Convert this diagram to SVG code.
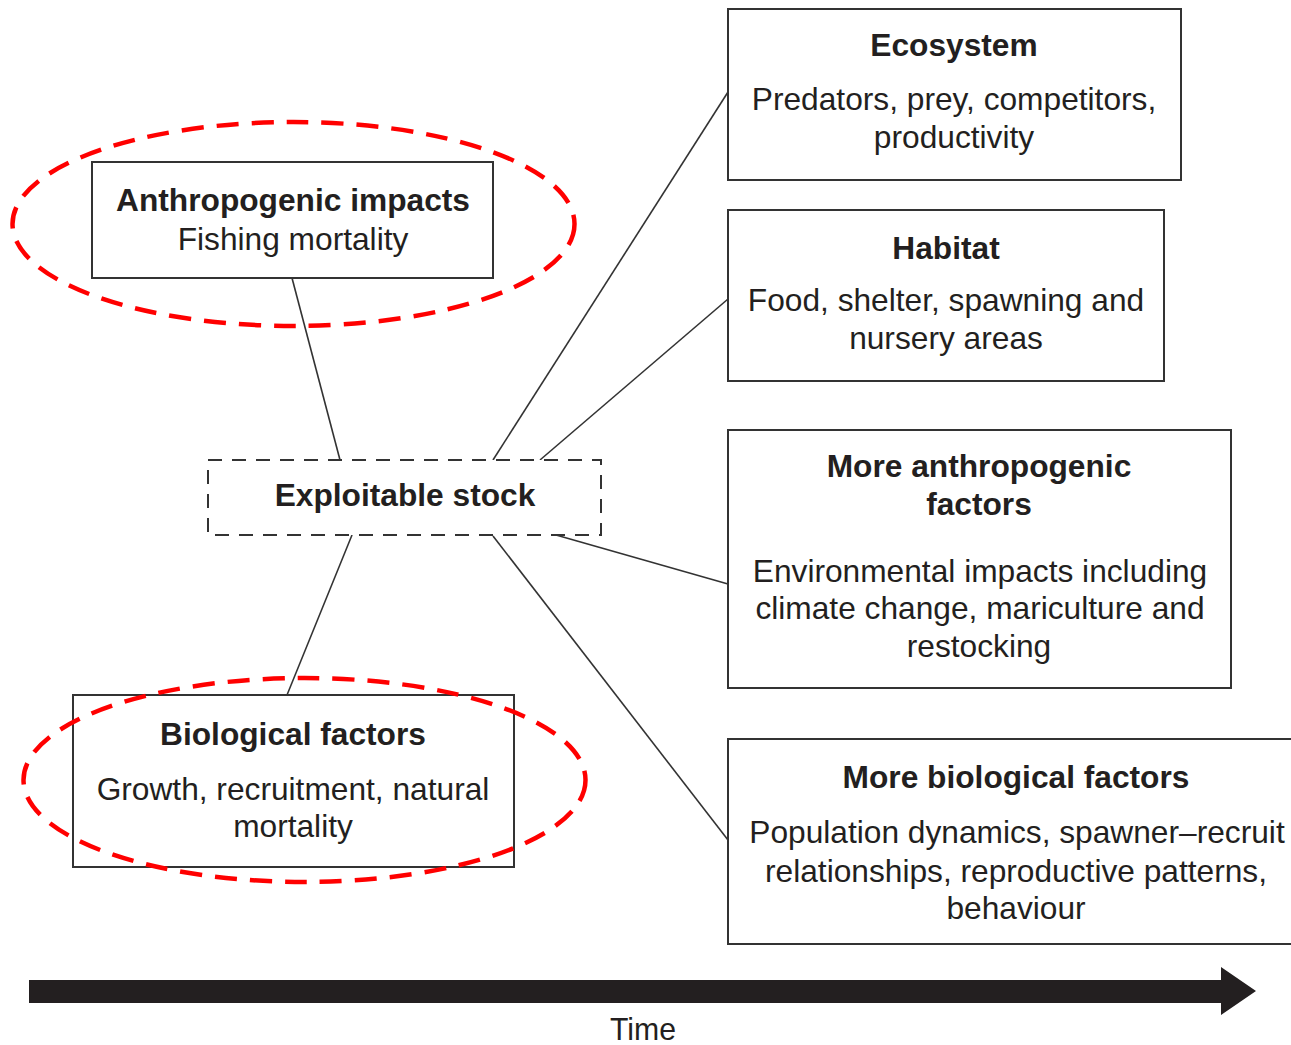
<svg xmlns="http://www.w3.org/2000/svg" width="1291" height="1045" viewBox="0 0 1291 1045">
  <style>
    .box { fill: #ffffff; stroke: #333333; stroke-width: 2; }
    .dbox { fill: #ffffff; stroke: #333333; stroke-width: 2; stroke-dasharray: 14 10; }
    .ring { fill: none; stroke: #ff0000; stroke-width: 4.5; stroke-dasharray: 22 13; }
    .link { stroke: #333333; stroke-width: 1.6; fill: none; }
    text { font-family: "Liberation Sans", Arial, sans-serif; fill: #231f20; text-anchor: middle; font-size: 31.7px; }
    .t { font-weight: bold; }
  </style>

  <!-- connectors from the central stock -->
  <g id="connectors">
    <line class="link" x1="292" y1="278" x2="340" y2="460"/>
    <line class="link" x1="493" y1="460" x2="728" y2="92"/>
    <line class="link" x1="540" y1="460" x2="728" y2="299"/>
    <line class="link" x1="556" y1="535" x2="728" y2="584"/>
    <line class="link" x1="493" y1="536" x2="728" y2="840"/>
    <line class="link" x1="352" y1="535" x2="287" y2="695"/>
  </g>

  <g id="anthropogenic">
    <rect class="box" x="92" y="162" width="401" height="116"/>
    <text class="t" x="293" y="211">Anthropogenic impacts</text>
    <text x="293" y="250">Fishing mortality</text>
  </g>

  <g id="stock">
    <rect class="dbox" x="208" y="460" width="393" height="75"/>
    <text class="t" x="405" y="506">Exploitable stock</text>
  </g>

  <g id="biological">
    <rect class="box" x="73" y="695" width="441" height="172"/>
    <text class="t" x="293" y="745">Biological factors</text>
    <text x="293" y="800">Growth, recruitment, natural</text>
    <text x="293" y="837">mortality</text>
  </g>

  <g id="ecosystem">
    <rect class="box" x="728" y="9" width="453" height="171"/>
    <text class="t" x="954" y="56">Ecosystem</text>
    <text x="954" y="110">Predators, prey, competitors,</text>
    <text x="954" y="148">productivity</text>
  </g>

  <g id="habitat">
    <rect class="box" x="728" y="210" width="436" height="171"/>
    <text class="t" x="946" y="259">Habitat</text>
    <text x="946" y="311">Food, shelter, spawning and</text>
    <text x="946" y="349">nursery areas</text>
  </g>

  <g id="more-anthropogenic">
    <rect class="box" x="728" y="430" width="503" height="258"/>
    <text class="t" x="979" y="477">More anthropogenic</text>
    <text class="t" x="979" y="515">factors</text>
    <text x="980" y="582">Environmental impacts including</text>
    <text x="980" y="619">climate change, mariculture and</text>
    <text x="979" y="657">restocking</text>
  </g>

  <g id="more-biological">
    <rect class="box" x="728" y="739" width="580" height="205"/>
    <text class="t" x="1016" y="788">More biological factors</text>
    <text x="1017" y="843">Population dynamics, spawner–recruit</text>
    <text x="1016" y="882">relationships, reproductive patterns,</text>
    <text x="1016" y="919">behaviour</text>
  </g>

  <!-- red dashed highlight rings -->
  <g id="highlights">
    <ellipse class="ring" cx="293.5" cy="224" rx="281" ry="102"/>
    <ellipse class="ring" cx="304.5" cy="780" rx="281" ry="102"/>
  </g>

  <g id="time-axis">
    <polygon fill="#231f20" points="29,980 1221,980 1221,967 1256,991 1221,1015 1221,1003 29,1003"/>
    <text x="643" y="1040" font-size="32" textLength="66" lengthAdjust="spacingAndGlyphs">Time</text>
  </g>
</svg>
